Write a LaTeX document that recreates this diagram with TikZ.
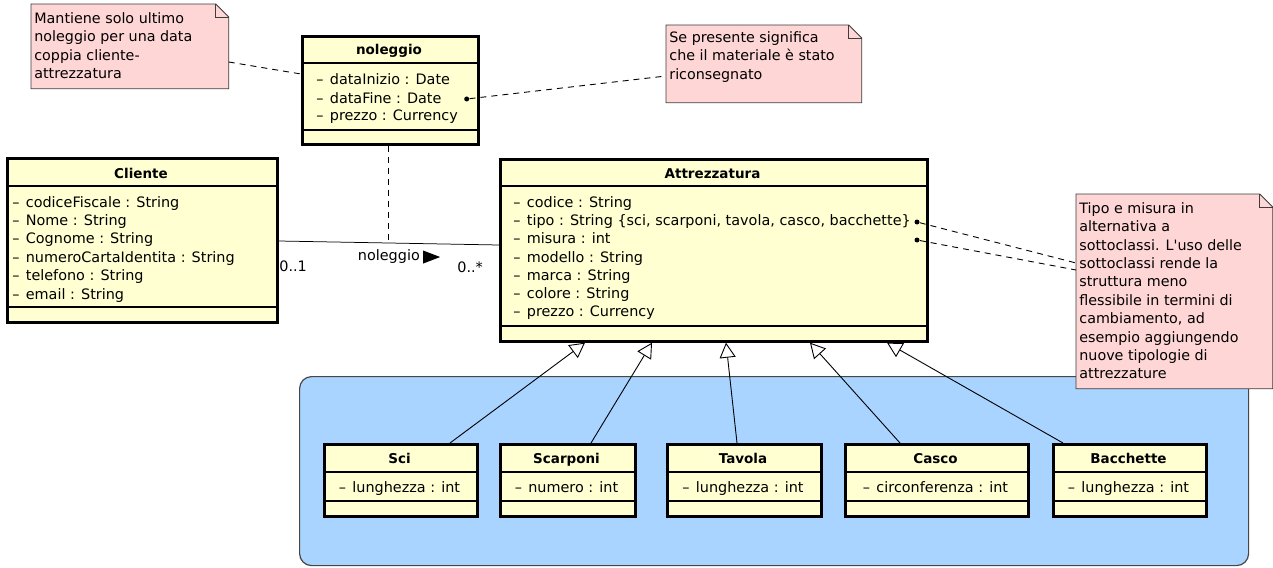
\documentclass[tikz,border=0pt]{standalone}
\usepackage{fontspec}
\setmainfont{DejaVu Sans}
\usetikzlibrary{arrows.meta,calc}

\definecolor{clsfill}{RGB}{255,255,210}
\definecolor{notefill}{RGB}{255,214,214}
\definecolor{notedraw}{RGB}{60,60,60}
\definecolor{grpfill}{RGB}{169,212,255}
\definecolor{grpdraw}{RGB}{70,70,70}

\newcommand{\priv}{\makebox[13.5pt][l]{–}}

\tikzset{every picture/.style={line width=0.75pt}}
\tikzset{
  cls/.style={draw=black, line width=2.7pt, fill=clsfill, inner sep=0pt, anchor=north west},
  sep/.style={line width=1.2pt},
  ctitle/.style={font=\fontsize{13.5}{16}\selectfont\bfseries, anchor=base, inner sep=0pt},
  attr/.style={font=\fontsize{14.4}{16}\selectfont, anchor=base west, inner sep=0pt},
  grp/.style={draw=grpdraw, line width=1.2pt, fill=grpfill, rounded corners=12pt, inner sep=0pt, anchor=north west},
  notebox/.style={inner sep=0pt, anchor=north west},
  notepath/.style={draw=notedraw, fill=notefill, line width=0.9pt},
  notetxt/.style={font=\fontsize{14.3}{18.4}\selectfont, align=left, anchor=north west, inner sep=0pt},
  noteline/.style={dash pattern=on 6pt off 5pt, line width=0.9pt},
  gen/.style={-{Triangle[fill=white, length=15pt, width=16pt]}, line width=0.9pt},
  dot/.style={circle, fill=black, inner sep=0pt, minimum size=5pt},
  lbl/.style={font=\fontsize{14.4}{16}\selectfont, inner sep=0pt},
}

\begin{document}
\begin{tikzpicture}[x=1pt,y=1pt,yscale=-1,xscale=1]
\useasboundingbox (0,0) rectangle (1273,567);

% Group of the sub classes
\node[grp, minimum width=949, minimum height=189] (group) at (299,376) {};

% Notes
\node[notebox, minimum width=197, minimum height=84] (note1) at (31,4) {};
\node[notebox, minimum width=195, minimum height=77] (note3) at (666,25) {};
\node[notebox, minimum width=196, minimum height=194] (note4) at (1076,194) {};
\foreach \n in {note1,note3,note4}{
  \draw[notepath] (\n.north west) -- ($(\n.north east)+(-13,0)$) -- ($(\n.north east)+(0,13)$) -- (\n.south east) -- (\n.south west) -- cycle;
  \draw[notepath, fill=none] ($(\n.north east)+(-13,0)$) |- ($(\n.north east)+(0,13)$);
}
\node[notetxt] (note1Text) at (34,12) {Mantiene solo ultimo\\noleggio per una data\\coppia cliente-\\attrezzatura};
\node[notetxt] (note3Text) at (669,31) {Se presente significa\\che il materiale è stato\\riconsegnato};
\node[notetxt] (note4Text) at (1079,202) {Tipo e misura in\\alternativa a\\sottoclassi. L\textquotesingle uso delle\\sottoclassi rende la\\struttura meno\\flessibile in termini di\\cambiamento, ad\\esempio aggiungendo\\nuove tipologie di\\attrezzature};

% Class noleggio
\node[cls, minimum width=176, minimum height=108] (noleggio) at (301,35) {};
\node[ctitle] (noleggioTitle) at (389,55) {noleggio};
\draw[sep] (301,63) -- (477,63);
\draw[sep] (301,130) -- (477,130);
\foreach \a [count=\i from 0] in {dataInizio : Date, dataFine : Date, prezzo : Currency}
  \node[attr] (noleggioA\i) at (316,85+18*\i) {\priv\a};

% Class Cliente
\node[cls, minimum width=270, minimum height=164] (cliente) at (6,157) {};
\node[ctitle] (clienteTitle) at (141,178) {Cliente};
\draw[sep] (6,186) -- (276,186);
\draw[sep] (6,307) -- (276,307);
\foreach \a [count=\i from 0] in {codiceFiscale : String, Nome : String, Cognome : String, numeroCartaIdentita : String, telefono : String, email : String}
  \node[attr] (clienteA\i) at (12,207+18.4*\i) {\priv\a};

% Class Attrezzatura
\node[cls, minimum width=427, minimum height=182] (attrezz) at (499,158) {};
\node[ctitle] (attrezzTitle) at (712.5,178) {Attrezzatura};
\draw[sep] (499,186) -- (926,186);
\draw[sep] (499,326) -- (926,326);
\foreach \a [count=\i from 0] in {codice : String, {tipo : String \{sci, scarponi, tavola, casco, bacchette\}}, misura : int, modello : String, marca : String, colore : String, prezzo : Currency}
  \node[attr] (attrezzA\i) at (513,207.3+18.25*\i) {\priv\a};

% Sub classes
\foreach \n/\t/\x/\w/\att in {sci/Sci/323/153/lunghezza : int, scarponi/Scarponi/499/135/numero : int, tavola/Tavola/666/154/lunghezza : int, casco/Casco/844/183/circonferenza : int, bacchette/Bacchette/1052/153/lunghezza : int}{
  \node[cls, minimum width=\w, minimum height=72] (\n) at (\x,443) {};
  \node[ctitle] (\n Title) at (\x+\w/2,463.3) {\t};
  \draw[sep] (\x,472) -- (\x+\w,472);
  \draw[sep] (\x,501) -- (\x+\w,501);
  \node[attr, anchor=base] (\n A) at (\x+\w/2,492.7) {\priv\att};
}

% Generalizations
\draw[gen] ($(sci.north west)+(127,0)$) -- ($(attrezz.south west)+(86,0)$);
\draw[gen] ($(scarponi.north west)+(92,0)$) -- ($(attrezz.south west)+(153,0)$);
\draw[gen] ($(tavola.north west)+(71,0)$) -- ($(attrezz.south west)+(227,0)$);
\draw[gen] ($(casco.north west)+(56,0)$) -- ($(attrezz.south west)+(311,0)$);
\draw[gen] ($(bacchette.north west)+(11,0)$) -- ($(attrezz.south west)+(388,0)$);

% Association noleggio
\coordinate (clienteEnd) at ($(cliente.north east)+(0,84)$);
\coordinate (attrezzEnd) at ($(attrezz.north west)+(0,87)$);
\coordinate (assocMid) at ($(clienteEnd)!0.5!(attrezzEnd)$);
\draw (clienteEnd) -- (attrezzEnd);
\draw[noteline] (noleggio.south -| assocMid) -- (assocMid);
\node[lbl, anchor=base] (assocLbl) at ($(assocMid)+(0,17)$) {noleggio};
\fill ($(assocLbl.east)+(3,-5.5)$) -- ++(17,6.5) -- ++(-17,6.5) -- cycle;
\node[lbl, anchor=base west] (multCliente) at (279,271.7) {0..1};
\node[lbl, anchor=base west] (multAttrezz) at (457,272) {0..*};

% Note connectors
\node[dot] (dotFine) at (466.7,99) {};
\node[dot] (dotTipo) at (917,222) {};
\node[dot] (dotMisura) at (917,240) {};
\draw[noteline] ($(note1.north east)+(0,58)$) -- ($(noleggio.north west)+(0,39)$);
\draw[noteline] (dotFine) -- ($(note3.north west)+(0,51)$);
\draw[noteline] (dotTipo) -- ($(note4.north west)+(0,69)$);
\draw[noteline] (dotMisura) -- ($(note4.north west)+(0,76)$);

\end{tikzpicture}
\end{document}
